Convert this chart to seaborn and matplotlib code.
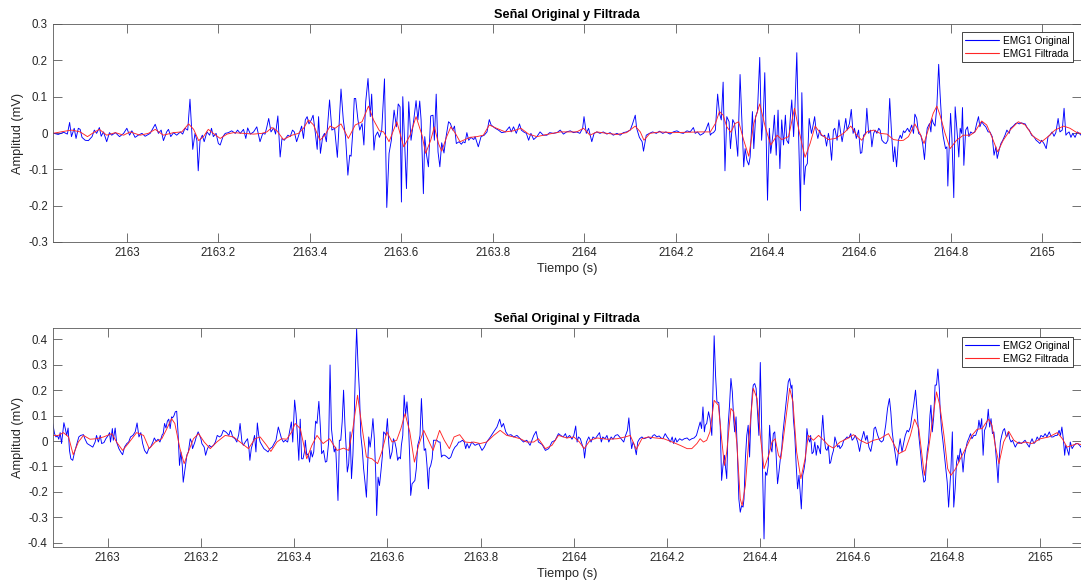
import numpy as np
import pandas as pd
import matplotlib
matplotlib.use("Agg")
import matplotlib.pyplot as plt
from matplotlib.ticker import FuncFormatter
import seaborn as sns

# ---------------- data (time s, amplitude mV) ----------------
emg1_original = [
    (2162.838, 0.000), (2162.850, -0.004), (2162.862, 0.002), (2162.870, -0.003), (2162.875, 0.029), (2162.879, -0.010),
    (2162.885, 0.013), (2162.889, -0.015), (2162.894, 0.013), (2162.898, 0.010), (2162.902, -0.012), (2162.909, -0.020),
    (2162.916, -0.021), (2162.924, -0.010), (2162.929, 0.008), (2162.934, -0.001), (2162.940, 0.015), (2162.944, -0.009),
    (2162.949, 0.003), (2162.956, -0.024), (2162.962, 0.001), (2162.967, -0.006), (2162.975, 0.001), (2162.984, -0.010),
    (2162.993, -0.001), (2163.000, 0.013), (2163.006, -0.006), (2163.011, 0.006), (2163.018, -0.012), (2163.025, -0.006),
    (2163.033, -0.001), (2163.040, -0.009), (2163.051, -0.001), (2163.062, 0.024), (2163.069, -0.001), (2163.075, 0.008),
    (2163.080, -0.021), (2163.087, 0.003), (2163.091, 0.010), (2163.096, -0.010), (2163.102, 0.001), (2163.109, -0.006),
    (2163.117, 0.003), (2163.122, -0.003), (2163.127, 0.013), (2163.133, 0.008), (2163.138, 0.093), (2163.144, -0.045),
    (2163.149, -0.001), (2163.153, -0.020), (2163.156, -0.104), (2163.160, -0.020), (2163.165, -0.006), (2163.169, -0.024),
    (2163.175, 0.003), (2163.181, -0.006), (2163.185, 0.013), (2163.189, -0.010), (2163.195, -0.001), (2163.200, -0.029),
    (2163.204, -0.033), (2163.210, -0.010), (2163.215, -0.001), (2163.222, 0.001), (2163.229, 0.006), (2163.237, -0.001),
    (2163.242, 0.008), (2163.248, -0.001), (2163.255, 0.010), (2163.260, -0.015), (2163.264, 0.014), (2163.270, -0.003),
    (2163.277, 0.003), (2163.284, 0.017), (2163.288, -0.006), (2163.291, -0.024), (2163.297, -0.001), (2163.302, -0.003),
    (2163.306, 0.017), (2163.310, 0.040), (2163.315, 0.003), (2163.321, 0.014), (2163.325, -0.003), (2163.330, 0.047),
    (2163.335, -0.066), (2163.339, -0.015), (2163.344, -0.020),
    (2163.352, -0.006), (2163.357, -0.010), (2163.362, 0.008), (2163.366, 0.003), (2163.371, -0.024), (2163.377, -0.001),
    (2163.382, 0.019), (2163.386, -0.015), (2163.390, 0.036), (2163.394, 0.045), (2163.398, 0.025), (2163.403, 0.036),
    (2163.407, 0.049), (2163.412, -0.001), (2163.416, -0.045), (2163.419, 0.045), (2163.423, -0.056), (2163.428, -0.010),
    (2163.432, -0.001), (2163.436, -0.024), (2163.443, 0.091), (2163.448, 0.008), (2163.454, 0.013), (2163.460, -0.067),
    (2163.468, 0.121), (2163.473, 0.036), (2163.478, -0.012), (2163.483, -0.116), (2163.487, -0.061), (2163.490, -0.064),
    (2163.494, 0.008), (2163.497, 0.095), (2163.500, 0.095), (2163.505, 0.036), (2163.509, 0.008), (2163.514, 0.026),
    (2163.518, -0.033), (2163.522, 0.086), (2163.527, 0.150), (2163.532, 0.045), (2163.535, 0.107), (2163.540, -0.047),
    (2163.543, -0.009), (2163.548, 0.003), (2163.552, -0.012), (2163.557, 0.008), (2163.563, 0.149), (2163.568, -0.205),
    (2163.573, -0.056), (2163.578, -0.020), (2163.584, 0.063), (2163.589, 0.017), (2163.593, 0.080), (2163.597, 0.072),
    (2163.600, -0.190), (2163.603, 0.100), (2163.607, -0.024), (2163.611, -0.153), (2163.616, 0.086), (2163.621, -0.020),
    (2163.627, 0.036), (2163.632, 0.089), (2163.636, 0.036), (2163.640, 0.088), (2163.643, 0.036), (2163.648, -0.167),
    (2163.651, -0.010), (2163.655, -0.061), (2163.659, -0.093), (2163.664, 0.047), (2163.669, 0.049), (2163.672, -0.020),
    (2163.676, 0.107), (2163.680, -0.052), (2163.684, -0.093), (2163.688, -0.027), (2163.693, -0.055), (2163.697, -0.015),
    (2163.703, 0.031), (2163.707, 0.026), (2163.712, 0.008), (2163.716, 0.019), (2163.720, -0.029), (2163.726, -0.024),
    (2163.731, -0.031), (2163.735, -0.024), (2163.739, -0.027), (2163.743, 0.001), (2163.747, -0.020), (2163.752, -0.012),
    (2163.758, -0.018),
    (2163.761, -0.010), (2163.768, -0.038), (2163.774, -0.010), (2163.781, -0.006), (2163.787, 0.003), (2163.792, 0.037),
    (2163.796, 0.022), (2163.805, 0.013), (2163.812, 0.008), (2163.819, 0.001), (2163.827, 0.003), (2163.836, 0.017),
    (2163.840, 0.003), (2163.845, 0.017), (2163.851, -0.001), (2163.858, 0.025), (2163.862, 0.008), (2163.867, 0.003),
    (2163.873, -0.001), (2163.878, -0.020), (2163.883, -0.001), (2163.889, -0.018), (2163.896, -0.010), (2163.903, 0.003),
    (2163.910, -0.006), (2163.918, -0.006), (2163.924, 0.001), (2163.932, -0.001), (2163.940, 0.001), (2163.947, 0.008),
    (2163.954, -0.003), (2163.961, 0.003), (2163.969, 0.006), (2163.976, 0.001), (2163.983, 0.003), (2163.990, -0.001),
    (2163.996, 0.013), (2163.999, 0.045), (2164.004, -0.001), (2164.009, 0.013), (2164.016, -0.024), (2164.021, -0.001),
    (2164.027, 0.003), (2164.034, -0.001), (2164.041, 0.003), (2164.049, -0.003), (2164.056, 0.001), (2164.063, -0.006),
    (2164.071, -0.001), (2164.078, -0.006), (2164.085, 0.001), (2164.092, 0.003), (2164.100, 0.008), (2164.105, 0.025),
    (2164.111, 0.049), (2164.114, 0.013), (2164.120, -0.012), (2164.126, -0.024), (2164.129, -0.050), (2164.135, -0.006),
    (2164.142, -0.001), (2164.149, 0.003), (2164.157, -0.001), (2164.164, 0.005), (2164.171, -0.001), (2164.178, 0.003),
    (2164.187, -0.003), (2164.194, 0.003), (2164.202, 0.006), (2164.209, 0.001), (2164.216, -0.001), (2164.224, 0.006),
    (2164.231, 0.003), (2164.238, 0.015), (2164.242, -0.001), (2164.247, 0.003), (2164.253, -0.006), (2164.260, -0.001),
    (2164.265, 0.008),
    (2164.271, 0.028), (2164.275, -0.006), (2164.278, -0.001), (2164.282, 0.001), (2164.286, 0.008), (2164.291, 0.107),
    (2164.295, 0.054), (2164.299, 0.036), (2164.303, 0.140), (2164.307, -0.104), (2164.311, 0.045), (2164.316, 0.031),
    (2164.319, -0.043), (2164.324, 0.037), (2164.328, 0.026), (2164.331, -0.010), (2164.335, -0.064), (2164.340, 0.161),
    (2164.344, 0.031), (2164.348, -0.093), (2164.351, -0.043), (2164.355, -0.075), (2164.359, -0.088), (2164.362, -0.066),
    (2164.367, 0.059), (2164.370, -0.043), (2164.374, 0.045), (2164.378, 0.059), (2164.383, 0.208), (2164.387, -0.020),
    (2164.391, 0.054), (2164.394, 0.166), (2164.400, -0.185), (2164.404, 0.013), (2164.407, -0.056), (2164.412, -0.001),
    (2164.415, 0.049), (2164.419, -0.061), (2164.423, 0.063), (2164.427, -0.098), (2164.431, 0.036), (2164.435, -0.033),
    (2164.439, 0.049), (2164.442, -0.020), (2164.446, -0.029), (2164.450, 0.045), (2164.453, 0.091), (2164.457, -0.010),
    (2164.460, 0.072), (2164.464, 0.221), (2164.468, -0.010), (2164.472, -0.214), (2164.475, 0.111), (2164.480, -0.142),
    (2164.483, -0.093), (2164.487, -0.084), (2164.491, 0.040), (2164.496, -0.001), (2164.499, 0.017), (2164.503, 0.045),
    (2164.506, 0.008), (2164.510, -0.015), (2164.514, 0.008), (2164.517, -0.006), (2164.522, -0.009), (2164.525, -0.006),
    (2164.529, -0.036), (2164.533, -0.001), (2164.536, -0.020), (2164.540, -0.075), (2164.544, 0.008), (2164.547, 0.013),
    (2164.552, -0.020), (2164.556, 0.036), (2164.559, 0.008), (2164.563, -0.024), (2164.566, -0.001), (2164.571, 0.040),
    (2164.574, 0.008), (2164.579, 0.026), (2164.583, 0.065), (2164.587, -0.001), (2164.590, 0.013), (2164.594, -0.015),
    (2164.599, 0.008), (2164.603, -0.056), (2164.606, -0.054), (2164.610, -0.006), (2164.614, -0.001), (2164.617, 0.068),
    (2164.621, -0.001), (2164.625, 0.008), (2164.628, -0.038), (2164.632, -0.001), (2164.635, 0.008), (2164.639, -0.001),
    (2164.643, 0.013), (2164.646, 0.008), (2164.650, -0.020), (2164.655, -0.027), (2164.659, -0.029), (2164.663, -0.020),
    (2164.667, 0.095), (2164.671, -0.001), (2164.675, -0.079), (2164.678, -0.038), (2164.682, -0.093), (2164.686, -0.020),
    (2164.690, -0.006),
    (2164.693, -0.015), (2164.697, 0.006), (2164.700, 0.001), (2164.706, 0.013), (2164.710, 0.003), (2164.715, 0.022),
    (2164.719, -0.001), (2164.722, 0.052), (2164.726, 0.040), (2164.730, -0.001), (2164.735, -0.006), (2164.739, -0.029),
    (2164.743, -0.073), (2164.746, -0.020), (2164.749, 0.013), (2164.754, 0.026), (2164.757, 0.003), (2164.759, 0.040),
    (2164.762, 0.028), (2164.766, 0.019), (2164.770, 0.072), (2164.774, 0.189), (2164.777, 0.109), (2164.781, 0.022),
    (2164.784, -0.010), (2164.789, -0.043), (2164.792, -0.038), (2164.794, -0.146), (2164.797, -0.038), (2164.800, 0.054),
    (2164.803, -0.015), (2164.807, -0.178), (2164.810, 0.072), (2164.815, -0.010), (2164.818, -0.066), (2164.821, 0.013),
    (2164.824, -0.001), (2164.826, 0.070), (2164.829, -0.089), (2164.833, 0.008), (2164.837, 0.017), (2164.840, -0.010),
    (2164.844, 0.003), (2164.848, -0.001), (2164.853, 0.003), (2164.857, 0.026), (2164.861, 0.045), (2164.864, 0.017),
    (2164.868, 0.031), (2164.873, 0.022), (2164.877, 0.017), (2164.882, 0.003), (2164.886, 0.003), (2164.891, -0.010),
    (2164.895, -0.061), (2164.899, -0.038), (2164.902, -0.070), (2164.906, -0.047), (2164.910, -0.029), (2164.914, -0.020),
    (2164.919, -0.006), (2164.923, 0.008), (2164.928, -0.001), (2164.931, 0.013), (2164.937, 0.019), (2164.942, 0.026),
    (2164.946, 0.028), (2164.950, 0.025), (2164.955, 0.028), (2164.959, 0.026), (2164.963, 0.025), (2164.968, 0.013),
    (2164.972, 0.008), (2164.977, -0.006), (2164.982, -0.010), (2164.987, -0.020), (2164.991, -0.024), (2164.995, -0.029),
    (2164.999, -0.020), (2165.004, -0.029), (2165.009, -0.043), (2165.013, -0.010), (2165.017, -0.006), (2165.022, 0.003),
    (2165.026, -0.009), (2165.030, 0.001), (2165.035, 0.040), (2165.039, 0.003), (2165.044, 0.008), (2165.048, 0.068),
    (2165.052, -0.006), (2165.055, -0.001), (2165.059, 0.003), (2165.063, -0.012), (2165.067, -0.001), (2165.072, -0.012),
    (2165.077, 0.003), (2165.081, -0.001), (2165.085, -0.006),
]

emg1_filtrada = [
    (2162.838, -0.001), (2162.869, 0.006), (2162.880, 0.008), (2162.898, 0.003), (2162.914, -0.010), (2162.927, 0.001),
    (2162.940, 0.010), (2162.956, -0.006), (2162.975, 0.001), (2162.993, -0.006), (2163.007, 0.003), (2163.029, -0.006),
    (2163.047, -0.001), (2163.062, 0.010), (2163.080, -0.006), (2163.102, 0.001), (2163.120, 0.003), (2163.135, 0.025),
    (2163.146, 0.010), (2163.157, -0.021), (2163.168, -0.009), (2163.178, 0.010), (2163.189, -0.001), (2163.204, -0.015),
    (2163.219, -0.003), (2163.233, 0.001), (2163.255, -0.001), (2163.277, -0.003), (2163.295, -0.001), (2163.306, 0.003),
    (2163.317, 0.015), (2163.328, 0.006), (2163.342, -0.018), (2163.361, -0.006), (2163.375, -0.001), (2163.386, 0.013),
    (2163.397, 0.036), (2163.408, 0.022), (2163.422, -0.020), (2163.433, -0.006), (2163.444, 0.019), (2163.455, 0.013),
    (2163.468, 0.025), (2163.484, -0.015), (2163.499, 0.022), (2163.514, 0.031), (2163.528, 0.074), (2163.539, 0.036),
    (2163.552, 0.006), (2163.561, 0.003), (2163.573, -0.024), (2163.590, 0.031), (2163.605, -0.038), (2163.619, -0.006),
    (2163.632, 0.045), (2163.645, -0.006), (2163.653, -0.056), (2163.664, -0.020), (2163.672, 0.017), (2163.681, -0.029),
    (2163.688, -0.050), (2163.699, -0.010), (2163.708, 0.017), (2163.718, -0.001), (2163.728, -0.024), (2163.739, -0.018),
    (2163.750, -0.012), (2163.765, -0.010), (2163.779, -0.006), (2163.792, 0.022), (2163.808, 0.013), (2163.827, 0.003),
    (2163.845, 0.006), (2163.861, 0.013), (2163.878, -0.003), (2163.896, -0.010), (2163.918, -0.004), (2163.947, 0.003),
    (2163.969, 0.003), (2163.983, 0.003), (2163.998, 0.013), (2164.012, -0.006), (2164.027, 0.003), (2164.049, -0.001),
    (2164.071, -0.004), (2164.092, 0.001), (2164.111, 0.019), (2164.122, 0.003), (2164.130, -0.020), (2164.143, -0.001),
    (2164.165, 0.003), (2164.194, 0.001), (2164.224, 0.002), (2164.253, 0.003), (2164.267, 0.003), (2164.275, 0.003),
    (2164.286, 0.026), (2164.295, 0.059), (2164.303, 0.049), (2164.311, 0.017), (2164.320, 0.002), (2164.329, 0.026),
    (2164.337, 0.031), (2164.348, -0.020), (2164.359, -0.064), (2164.370, 0.026), (2164.383, 0.080), (2164.395, 0.017),
    (2164.407, -0.033), (2164.421, -0.006), (2164.431, -0.018), (2164.446, -0.010), (2164.459, 0.068), (2164.470, -0.001),
    (2164.482, -0.067), (2164.493, -0.029), (2164.504, 0.019), (2164.519, -0.006), (2164.533, -0.018), (2164.548, -0.015),
    (2164.566, -0.001), (2164.582, 0.019), (2164.595, -0.006), (2164.606, -0.020), (2164.617, 0.003), (2164.632, 0.008),
    (2164.646, -0.001), (2164.661, -0.003), (2164.675, -0.018), (2164.690, -0.021), (2164.697, -0.020), (2164.708, -0.010),
    (2164.722, 0.025), (2164.733, -0.001), (2164.742, -0.029), (2164.751, 0.008), (2164.762, 0.054), (2164.770, 0.074),
    (2164.777, 0.049), (2164.788, -0.001), (2164.799, -0.043), (2164.813, -0.020), (2164.828, -0.006), (2164.843, -0.006),
    (2164.853, 0.003), (2164.868, 0.033), (2164.879, 0.022), (2164.890, -0.010), (2164.903, -0.052), (2164.915, -0.020),
    (2164.930, 0.008), (2164.948, 0.031), (2164.963, 0.022), (2164.981, -0.010), (2164.999, -0.024), (2165.014, -0.009),
    (2165.028, 0.008), (2165.047, 0.019), (2165.061, 0.013), (2165.076, 0.001), (2165.085, -0.001),
]

emg2_original = [
    (2162.882, 0.069), (2162.886, 0.029), (2162.889, 0.016), (2162.892, 0.022), (2162.895, 0.007), (2162.898, 0.033),
    (2162.901, -0.010), (2162.903, 0.022), (2162.906, 0.072), (2162.909, 0.049), (2162.912, 0.022), (2162.915, 0.051),
    (2162.918, -0.037), (2162.921, -0.070), (2162.925, -0.076), (2162.929, -0.043), (2162.933, -0.017), (2162.938, 0.016),
    (2162.942, 0.022), (2162.948, 0.025), (2162.951, 0.009), (2162.956, -0.010), (2162.962, -0.017), (2162.968, -0.024),
    (2162.973, -0.004), (2162.976, 0.022), (2162.980, -0.004), (2162.984, 0.022), (2162.987, -0.010), (2162.992, -0.006),
    (2162.996, 0.009), (2163.001, 0.022), (2163.004, 0.033), (2163.006, -0.004), (2163.010, 0.049), (2163.012, 0.003),
    (2163.016, 0.051), (2163.019, -0.004), (2163.024, -0.030), (2163.028, -0.043), (2163.032, -0.054), (2163.036, -0.024),
    (2163.041, -0.010), (2163.045, -0.004), (2163.049, 0.016), (2163.054, 0.022), (2163.059, 0.036), (2163.063, 0.071),
    (2163.067, 0.016), (2163.071, 0.033), (2163.075, -0.010), (2163.079, -0.037), (2163.084, -0.050), (2163.088, -0.030),
    (2163.092, -0.024), (2163.097, -0.004), (2163.100, 0.012), (2163.104, -0.001), (2163.108, 0.007), (2163.112, -0.004),
    (2163.117, 0.025), (2163.119, 0.029), (2163.122, 0.069), (2163.125, 0.051), (2163.128, 0.078), (2163.131, 0.086),
    (2163.134, 0.049), (2163.137, 0.095), (2163.139, 0.091), (2163.142, 0.099), (2163.145, 0.115), (2163.148, 0.117),
    (2163.151, 0.029), (2163.154, -0.096), (2163.157, -0.043), (2163.160, -0.096), (2163.162, -0.162), (2163.166, -0.109),
    (2163.170, -0.054), (2163.173, -0.043), (2163.177, 0.009), (2163.180, -0.004), (2163.182, -0.030), (2163.187, -0.004),
    (2163.190, 0.016), (2163.194, 0.036), (2163.197, 0.022), (2163.200, 0.009), (2163.202, -0.010), (2163.207, -0.024),
    (2163.210, -0.056), (2163.214, -0.030), (2163.218, -0.017), (2163.222, -0.024), (2163.227, -0.017), (2163.231, -0.004),
    (2163.235, 0.022), (2163.240, 0.016), (2163.244, 0.022), (2163.248, 0.042), (2163.253, 0.036), (2163.255, 0.033),
    (2163.260, 0.022), (2163.263, 0.042), (2163.265, 0.036), (2163.268, 0.016), (2163.273, 0.009), (2163.277, -0.004),
    (2163.281, 0.025), (2163.284, 0.069), (2163.288, -0.004), (2163.291, -0.017), (2163.295, -0.004), (2163.300, 0.009),
    (2163.303, -0.030), (2163.305, -0.076), (2163.308, -0.030), (2163.311, -0.010), (2163.315, 0.022), (2163.318, -0.043),
    (2163.321, 0.071), (2163.324, 0.022), (2163.327, -0.004), (2163.331, -0.017), (2163.335, -0.030), (2163.340, -0.037),
    (2163.344, -0.043), (2163.348, -0.030), (2163.353, -0.024), (2163.357, -0.010), (2163.361, 0.003), (2163.366, 0.055),
    (2163.370, 0.029), (2163.373, 0.009), (2163.377, -0.004), (2163.381, 0.003), (2163.386, -0.004), (2163.390, 0.036),
    (2163.394, 0.075), (2163.397, -0.004), (2163.401, 0.161), (2163.404, 0.108), (2163.407, 0.022), (2163.410, -0.076),
    (2163.413, 0.086), (2163.416, -0.070), (2163.419, -0.070), (2163.422, -0.043), (2163.424, 0.003), (2163.427, -0.056),
    (2163.430, -0.050), (2163.433, -0.083), (2163.436, -0.037), (2163.439, -0.063), (2163.442, -0.043), (2163.446, 0.078),
    (2163.449, 0.069), (2163.453, 0.156), (2163.456, 0.062), (2163.459, -0.050), (2163.463, -0.037), (2163.467, -0.083),
    (2163.470, -0.080), (2163.474, -0.004), (2163.477, 0.299), (2163.480, 0.049), (2163.483, -0.004), (2163.486, -0.043),
    (2163.489, -0.024), (2163.492, -0.142), (2163.494, -0.234), (2163.497, 0.003), (2163.500, 0.003), (2163.503, 0.075),
    (2163.506, 0.200), (2163.509, 0.062), (2163.512, -0.043), (2163.514, -0.122), (2163.517, -0.089), (2163.520, 0.036),
    (2163.523, -0.148), (2163.526, -0.056), (2163.529, 0.108), (2163.532, 0.325), (2163.534, 0.441), (2163.537, 0.299),
    (2163.540, 0.194), (2163.543, 0.022), (2163.546, -0.030), (2163.549, -0.109), (2163.552, -0.162), (2163.555, -0.221),
    (2163.557, -0.122), (2163.560, 0.016), (2163.563, -0.024), (2163.566, 0.022), (2163.569, 0.088), (2163.572, 0.009),
    (2163.575, -0.129), (2163.577, -0.293), (2163.580, -0.142), (2163.583, -0.175), (2163.586, -0.122), (2163.589, -0.063),
    (2163.592, 0.036), (2163.595, 0.029), (2163.597, 0.022), (2163.600, 0.088), (2163.603, -0.010), (2163.606, -0.070),
    (2163.610, -0.043), (2163.613, 0.009), (2163.616, -0.004), (2163.619, -0.030), (2163.622, -0.076), (2163.625, -0.063),
    (2163.628, -0.070), (2163.630, -0.017), (2163.633, 0.022), (2163.636, 0.180), (2163.639, 0.101), (2163.642, 0.154),
    (2163.645, 0.075), (2163.648, -0.070), (2163.650, -0.214), (2163.653, -0.168), (2163.656, -0.162), (2163.659, -0.155),
    (2163.662, -0.109), (2163.665, -0.017), (2163.668, 0.003), (2163.670, 0.022), (2163.673, 0.167), (2163.676, 0.049),
    (2163.679, -0.037), (2163.682, -0.030), (2163.685, -0.096), (2163.688, -0.188), (2163.690, -0.109), (2163.693, -0.096),
    (2163.696, -0.070), (2163.699, 0.003), (2163.703, 0.003), (2163.706, 0.003), (2163.710, -0.004), (2163.713, -0.004),
    (2163.716, -0.063), (2163.719, -0.056), (2163.723, -0.056), (2163.728, -0.063), (2163.732, -0.070), (2163.736, -0.063),
    (2163.741, -0.037), (2163.745, -0.024), (2163.749, -0.017), (2163.753, -0.004), (2163.756, -0.004), (2163.761, 0.003),
    (2163.765, -0.004), (2163.768, -0.030), (2163.771, -0.010), (2163.775, -0.028), (2163.778, -0.017),
    (2163.781, -0.004), (2163.788, -0.017), (2163.796, -0.010), (2163.803, -0.037), (2163.808, -0.024), (2163.813, -0.004),
    (2163.821, 0.016), (2163.828, 0.036), (2163.835, 0.055), (2163.841, 0.086), (2163.845, 0.055), (2163.849, 0.069),
    (2163.854, 0.036), (2163.859, 0.022), (2163.865, 0.025), (2163.871, 0.016), (2163.878, 0.022), (2163.885, 0.009),
    (2163.892, -0.004), (2163.899, 0.003), (2163.906, -0.017), (2163.914, 0.022), (2163.919, 0.038), (2163.924, -0.004),
    (2163.932, -0.014), (2163.939, -0.037), (2163.946, -0.030), (2163.953, -0.004), (2163.960, 0.003), (2163.967, 0.029),
    (2163.972, 0.022), (2163.977, 0.016), (2163.982, 0.029), (2163.985, 0.012), (2163.991, 0.022), (2163.996, 0.007),
    (2164.000, 0.022), (2164.004, 0.059), (2164.007, -0.004), (2164.010, 0.016), (2164.014, 0.009), (2164.017, -0.010),
    (2164.021, -0.030), (2164.023, -0.067), (2164.027, -0.004), (2164.032, 0.016), (2164.037, -0.004), (2164.041, 0.016),
    (2164.046, 0.009), (2164.051, 0.022), (2164.055, 0.033), (2164.059, -0.004), (2164.062, 0.016), (2164.067, 0.009),
    (2164.071, 0.022), (2164.075, -0.004), (2164.080, 0.016), (2164.084, 0.007), (2164.089, 0.022), (2164.094, 0.025),
    (2164.100, 0.012), (2164.107, -0.004), (2164.111, 0.022), (2164.115, 0.042), (2164.118, 0.091), (2164.121, 0.022),
    (2164.124, -0.030), (2164.127, -0.004), (2164.130, -0.017), (2164.134, -0.054), (2164.137, -0.004), (2164.141, 0.009),
    (2164.146, 0.016), (2164.150, 0.009), (2164.155, 0.012), (2164.160, 0.016), (2164.165, 0.009), (2164.170, 0.022),
    (2164.173, 0.025), (2164.178, 0.016), (2164.183, 0.020), (2164.187, 0.012), (2164.191, 0.009), (2164.196, 0.029),
    (2164.200, 0.016), (2164.203, 0.009), (2164.207, -0.004), (2164.211, 0.016), (2164.214, -0.010), (2164.218, 0.012),
    (2164.221, -0.004), (2164.227, 0.009), (2164.232, 0.003), (2164.237, 0.009), (2164.243, 0.012), (2164.248, 0.003),
    (2164.253, 0.009), (2164.258, 0.012), (2164.263, 0.022),
    (2164.271, 0.075), (2164.274, 0.049), (2164.277, 0.134), (2164.280, 0.036), (2164.282, 0.062), (2164.285, 0.069),
    (2164.289, 0.115), (2164.292, 0.088), (2164.296, 0.022), (2164.298, 0.167), (2164.301, 0.414), (2164.304, 0.259),
    (2164.307, 0.154), (2164.311, 0.151), (2164.314, 0.062), (2164.317, -0.155), (2164.320, -0.096), (2164.323, -0.056),
    (2164.325, -0.096), (2164.328, -0.148), (2164.331, 0.062), (2164.334, 0.141), (2164.337, 0.246), (2164.340, 0.193),
    (2164.343, 0.082), (2164.345, 0.036), (2164.348, 0.095), (2164.351, -0.056), (2164.354, -0.228), (2164.357, -0.280),
    (2164.360, -0.254), (2164.363, -0.260), (2164.365, -0.228), (2164.368, -0.070), (2164.371, 0.022), (2164.374, 0.062),
    (2164.377, -0.063), (2164.380, 0.101), (2164.383, 0.193), (2164.385, 0.220), (2164.388, 0.226), (2164.391, 0.207),
    (2164.394, 0.115), (2164.397, 0.022), (2164.400, 0.309), (2164.403, 0.049), (2164.405, -0.122), (2164.408, -0.385),
    (2164.411, -0.122), (2164.414, -0.135), (2164.417, -0.096), (2164.420, 0.062), (2164.423, -0.030), (2164.425, -0.043),
    (2164.428, 0.029), (2164.431, 0.036), (2164.434, -0.056), (2164.437, -0.168), (2164.440, -0.122), (2164.443, -0.070),
    (2164.446, -0.030), (2164.448, 0.022), (2164.451, 0.075), (2164.454, 0.128), (2164.457, 0.180), (2164.460, 0.233),
    (2164.463, 0.246), (2164.466, 0.207), (2164.468, 0.220), (2164.471, 0.088), (2164.474, 0.022), (2164.477, -0.096),
    (2164.480, -0.188), (2164.483, -0.135), (2164.486, -0.214), (2164.488, -0.267), (2164.491, -0.135), (2164.494, -0.109),
    (2164.497, -0.070), (2164.500, 0.049), (2164.503, 0.009), (2164.506, -0.004), (2164.508, 0.022), (2164.511, -0.050),
    (2164.514, -0.043), (2164.517, -0.004), (2164.520, -0.056), (2164.523, -0.017), (2164.526, -0.030), (2164.529, -0.050),
    (2164.531, 0.022), (2164.534, 0.101), (2164.537, 0.016), (2164.540, -0.030), (2164.543, -0.037), (2164.546, -0.017),
    (2164.549, -0.089), (2164.551, -0.083), (2164.554, -0.056), (2164.557, -0.037), (2164.560, 0.016), (2164.563, -0.004),
    (2164.566, -0.024), (2164.569, -0.017), (2164.571, -0.030), (2164.576, -0.017), (2164.579, 0.003), (2164.583, 0.009),
    (2164.586, 0.016), (2164.590, 0.012), (2164.594, 0.029), (2164.597, 0.003), (2164.600, 0.009), (2164.604, 0.022),
    (2164.609, -0.004), (2164.613, -0.041), (2164.617, 0.003), (2164.622, 0.038), (2164.626, 0.003), (2164.629, 0.022),
    (2164.633, -0.024), (2164.637, -0.041), (2164.642, 0.009), (2164.644, 0.049), (2164.647, 0.055), (2164.652, 0.022),
    (2164.656, 0.003), (2164.660, -0.004), (2164.664, 0.003), (2164.669, 0.062), (2164.673, 0.128), (2164.677, 0.167),
    (2164.680, 0.115), (2164.683, 0.036), (2164.686, -0.010), (2164.690, -0.056), (2164.693, -0.096), (2164.697, -0.030),
    (2164.700, 0.009),
    (2164.704, -0.043), (2164.708, -0.004), (2164.711, 0.022), (2164.715, 0.042), (2164.718, 0.036), (2164.722, 0.055),
    (2164.726, 0.108), (2164.729, 0.141), (2164.733, 0.200), (2164.736, 0.128), (2164.740, 0.022), (2164.744, -0.050),
    (2164.747, -0.109), (2164.751, -0.162), (2164.754, -0.155), (2164.758, -0.043), (2164.761, -0.004), (2164.764, 0.101),
    (2164.766, 0.141), (2164.769, 0.036), (2164.772, 0.095), (2164.775, 0.220), (2164.778, 0.220), (2164.781, 0.283),
    (2164.784, 0.207), (2164.786, 0.115), (2164.789, 0.042), (2164.792, -0.004), (2164.795, -0.056), (2164.798, -0.109),
    (2164.801, -0.162), (2164.804, -0.260), (2164.806, -0.201), (2164.809, -0.109), (2164.812, 0.036), (2164.815, -0.260),
    (2164.818, -0.188), (2164.821, -0.083), (2164.824, -0.056), (2164.826, -0.083), (2164.829, -0.030), (2164.832, -0.056),
    (2164.835, -0.122), (2164.838, -0.056), (2164.841, -0.030), (2164.844, -0.004), (2164.847, 0.009), (2164.851, 0.029),
    (2164.854, 0.009), (2164.858, 0.022), (2164.862, 0.022), (2164.867, 0.049), (2164.869, 0.082), (2164.872, 0.049),
    (2164.875, 0.088), (2164.878, -0.056), (2164.881, 0.042), (2164.884, 0.055), (2164.887, 0.082), (2164.889, 0.125),
    (2164.892, 0.055), (2164.895, 0.088), (2164.898, 0.029), (2164.901, 0.036), (2164.904, -0.017), (2164.908, -0.109),
    (2164.910, -0.164), (2164.912, -0.089), (2164.915, -0.004), (2164.918, 0.022), (2164.921, 0.042), (2164.924, 0.049),
    (2164.927, 0.022), (2164.929, 0.016), (2164.932, 0.036), (2164.935, 0.009), (2164.938, -0.004), (2164.941, 0.003),
    (2164.944, -0.010), (2164.947, -0.024), (2164.951, -0.010), (2164.955, -0.004), (2164.960, -0.010), (2164.964, -0.004),
    (2164.968, 0.003), (2164.972, -0.010), (2164.977, -0.024), (2164.980, -0.004), (2164.983, 0.009), (2164.987, -0.010),
    (2164.990, -0.004), (2164.994, 0.016), (2164.998, 0.003), (2165.002, 0.022), (2165.007, 0.016), (2165.011, 0.029),
    (2165.015, 0.016), (2165.020, 0.036), (2165.024, 0.016), (2165.028, 0.016), (2165.033, 0.022), (2165.037, 0.022),
    (2165.041, 0.042), (2165.044, 0.022), (2165.047, 0.055), (2165.050, 0.009), (2165.053, -0.056), (2165.055, -0.017),
    (2165.058, -0.030), (2165.062, -0.056), (2165.065, -0.004), (2165.069, -0.030), (2165.073, -0.017), (2165.077, -0.010),
    (2165.081, -0.010), (2165.085, -0.017), (2165.088, -0.024),
]

emg2_filtrada = [
    (2162.882, 0.022), (2162.894, 0.022), (2162.905, 0.033), (2162.916, 0.016), (2162.926, -0.054), (2162.937, -0.004),
    (2162.948, 0.022), (2162.962, 0.007), (2162.976, 0.009), (2162.991, 0.016), (2163.009, 0.029), (2163.019, -0.004),
    (2163.032, -0.037), (2163.044, -0.010), (2163.062, 0.033), (2163.077, 0.022), (2163.089, -0.030), (2163.102, -0.004),
    (2163.116, 0.009), (2163.127, 0.049), (2163.137, 0.088), (2163.144, 0.069), (2163.155, -0.030), (2163.164, -0.089),
    (2163.173, -0.043), (2163.184, 0.009), (2163.195, 0.029), (2163.207, -0.004), (2163.220, -0.030), (2163.234, -0.004),
    (2163.252, 0.022), (2163.270, 0.016), (2163.284, -0.004), (2163.302, -0.030), (2163.316, 0.009), (2163.327, 0.016),
    (2163.341, -0.017), (2163.350, -0.041), (2163.363, -0.004), (2163.373, 0.009), (2163.384, 0.007), (2163.395, 0.036),
    (2163.402, 0.069), (2163.413, 0.049), (2163.427, -0.070), (2163.438, -0.017), (2163.449, 0.022), (2163.462, -0.010),
    (2163.476, 0.009), (2163.492, -0.037), (2163.506, -0.028), (2163.517, -0.037), (2163.526, 0.049), (2163.536, 0.180),
    (2163.545, 0.062), (2163.555, -0.063), (2163.567, -0.070), (2163.579, -0.089), (2163.588, -0.043), (2163.599, 0.036),
    (2163.610, -0.004), (2163.620, 0.003), (2163.629, 0.049), (2163.638, 0.108), (2163.648, 0.036), (2163.658, -0.083),
    (2163.667, -0.017), (2163.678, 0.042), (2163.688, 0.003), (2163.698, -0.037), (2163.705, 0.003), (2163.712, 0.042),
    (2163.722, 0.003), (2163.733, -0.030), (2163.743, 0.016), (2163.755, 0.025), (2163.767, -0.004), (2163.778, -0.006),
    (2163.785, -0.004), (2163.799, -0.010), (2163.813, -0.004), (2163.828, 0.022), (2163.842, 0.042), (2163.856, 0.022),
    (2163.871, 0.016), (2163.885, 0.009), (2163.899, -0.004), (2163.914, -0.004), (2163.924, 0.009), (2163.939, -0.030),
    (2163.953, -0.017), (2163.967, 0.022), (2163.985, 0.012), (2164.000, 0.016), (2164.012, -0.004), (2164.022, -0.030),
    (2164.035, 0.003), (2164.050, 0.012), (2164.071, 0.007), (2164.093, 0.009), (2164.110, 0.016), (2164.121, 0.022),
    (2164.134, -0.033), (2164.146, 0.009), (2164.160, 0.016), (2164.175, 0.012), (2164.193, 0.009), (2164.211, -0.004),
    (2164.228, -0.017), (2164.243, -0.030), (2164.253, -0.030), (2164.264, -0.010), (2164.271, 0.009), (2164.278, -0.004),
    (2164.285, 0.003), (2164.292, 0.036), (2164.301, 0.160), (2164.310, 0.141), (2164.317, 0.009), (2164.323, -0.096),
    (2164.328, -0.043), (2164.337, 0.128), (2164.343, 0.115), (2164.350, -0.017), (2164.357, -0.228), (2164.361, -0.254),
    (2164.368, -0.175), (2164.375, -0.004), (2164.385, 0.207), (2164.393, 0.167), (2164.400, 0.022), (2164.408, -0.109),
    (2164.418, -0.056), (2164.425, -0.004), (2164.432, 0.009), (2164.439, -0.056), (2164.444, -0.070), (2164.453, 0.062),
    (2164.463, 0.207), (2164.470, 0.154), (2164.478, -0.043), (2164.487, -0.148), (2164.496, -0.070), (2164.503, 0.022),
    (2164.514, 0.003), (2164.525, 0.022), (2164.536, 0.003), (2164.546, -0.017), (2164.557, -0.028), (2164.571, -0.004),
    (2164.586, 0.009), (2164.600, 0.025), (2164.614, 0.003), (2164.629, -0.010), (2164.643, 0.003), (2164.657, 0.009),
    (2164.668, 0.022), (2164.675, 0.029), (2164.686, -0.010), (2164.697, -0.050), (2164.704, -0.043), (2164.711, -0.037),
    (2164.722, 0.022), (2164.731, 0.086), (2164.740, 0.049), (2164.752, -0.135), (2164.761, -0.030), (2164.769, 0.075),
    (2164.778, 0.193), (2164.785, 0.141), (2164.794, 0.022), (2164.802, -0.109), (2164.809, -0.135), (2164.819, -0.109),
    (2164.829, -0.070), (2164.844, -0.017), (2164.854, 0.022), (2164.865, 0.046), (2164.876, 0.049), (2164.883, 0.069),
    (2164.890, 0.086), (2164.897, 0.062), (2164.904, -0.017), (2164.912, -0.089), (2164.922, -0.004), (2164.933, 0.038),
    (2164.944, 0.003), (2164.955, -0.010), (2164.969, -0.004), (2164.983, -0.010), (2165.001, 0.009), (2165.019, 0.016),
    (2165.037, 0.033), (2165.048, 0.009), (2165.058, -0.024), (2165.069, -0.017), (2165.080, -0.010), (2165.088, -0.014),
]

x_ticks = [2163, 2163.2, 2163.4, 2163.6, 2163.8, 2164, 2164.2, 2164.4, 2164.6, 2164.8, 2165]
y_ticks_1 = [-0.3, -0.2, -0.1, 0, 0.1, 0.2, 0.3]
y_ticks_2 = [-0.4, -0.3, -0.2, -0.1, 0, 0.1, 0.2, 0.3, 0.4]
titulo = "Señal Original y Filtrada"
x_label = "Tiempo (s)"
y_label = "Amplitud (mV)"
labels_1 = ["EMG1 Original", "EMG1 Filtrada"]
labels_2 = ["EMG2 Original", "EMG2 Filtrada"]

# ---------------- style ----------------
sns.set_theme(style="white")
plt.rcParams["font.family"] = ["Liberation Sans", "DejaVu Sans"]
plt.rcParams["axes.unicode_minus"] = False

W, H = 1081, 587
fig = plt.figure(figsize=(W / 100, H / 100), dpi=100)
fig.patch.set_facecolor("white")

dark = "#262626"
frame = "#5a5a5a"


def to_df(pairs):
    arr = np.array(pairs, dtype=float)
    return pd.DataFrame({"t": arr[:, 0], "v": arr[:, 1]})


def panel(rect, orig, filt, labels, xlim, ylim, yticks, legend_top_px):
    ax = fig.add_axes(rect)
    ax.set_facecolor("white")
    d1, d2 = to_df(orig), to_df(filt)
    sns.lineplot(data=d1, x="t", y="v", ax=ax, color=(0, 0, 1), lw=0.65,
                 estimator=None, sort=False, label=labels[0])
    sns.lineplot(data=d2, x="t", y="v", ax=ax, color=(1, 0.15, 0.15), lw=0.65,
                 estimator=None, sort=False, label=labels[1])
    ax.set_xlim(*xlim)
    ax.set_ylim(*ylim)
    ax.set_xticks(x_ticks)
    ax.set_yticks(yticks)
    ax.xaxis.set_major_formatter(FuncFormatter(lambda x, p: f"{x:g}"))
    ax.yaxis.set_major_formatter(FuncFormatter(lambda y, p: f"{round(y, 1):g}"))
    ax.tick_params(axis="both", which="major", direction="in", length=6.5, width=0.6,
                   top=True, right=True, bottom=True, left=True,
                   color=frame, labelcolor=dark, labelsize=8.3, pad=3.5)
    for s in ax.spines.values():
        s.set_color(frame)
        s.set_linewidth(0.6)
    ax.set_title(titulo, fontsize=9.2, fontweight="bold", color="black", pad=4)
    ax.set_xlabel(x_label, fontsize=9.2, color=dark, labelpad=3)
    ax.set_ylabel(y_label, fontsize=9.2, color=dark, labelpad=3)
    leg = ax.legend(loc="upper right", bbox_to_anchor=(1073.3 / W, 1 - legend_top_px / H),
                    bbox_transform=fig.transFigure, borderaxespad=0, fontsize=7.3,
                    frameon=True, fancybox=False, framealpha=1, edgecolor=dark,
                    handlelength=3.3, handletextpad=0.45, labelspacing=0.3, borderpad=0.35)
    leg.get_frame().set_linewidth(0.6)
    for line in leg.get_lines():
        line.set_linewidth(0.8)
    for t in leg.get_texts():
        t.set_color("black")
    ax.grid(False)
    return ax


left = 52.7 / W
width = (W - 52.7) / W
panel([left, 1 - 242 / H, width, (242 - 24) / H], emg1_original, emg1_filtrada, labels_1,
      (2162.838, 2165.085), (-0.3, 0.3), y_ticks_1, 32.3)
panel([left, 1 - 546.7 / H, width, (546.7 - 327.7) / H], emg2_original, emg2_filtrada, labels_2,
      (2162.882, 2165.088), (-0.4157, 0.4457), y_ticks_2, 337.3)

fig.savefig("out.png", dpi=100, facecolor="white")
